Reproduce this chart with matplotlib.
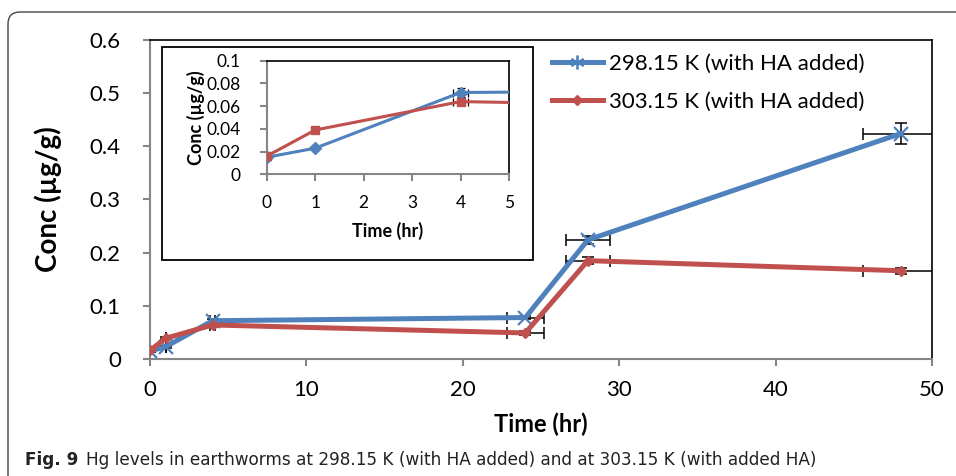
import matplotlib
matplotlib.use("Agg")
import matplotlib.pyplot as plt
import matplotlib.patches as mpatches
from matplotlib.transforms import IdentityTransform
from matplotlib.lines import Line2D

# data
time_hr = [0, 1, 4, 24, 28, 48]
conc_298 = [0.015, 0.023, 0.072, 0.078, 0.224, 0.424]
conc_303 = [0.016, 0.039, 0.064, 0.049, 0.185, 0.166]
yerr_298 = [0.002, 0.002, 0.004, 0.003, 0.008, 0.02]
yerr_303 = [0.002, 0.002, 0.003, 0.003, 0.006, 0.006]
xerr_298 = [0, 0, 0.15, 1.2, 1.4, 2.4]
xerr_303 = [0, 0, 0.15, 1.2, 1.4, 2.4]

label_298 = "298.15 K (with HA added)"
label_303 = "303.15 K (with HA added)"
main_yticks = [0, 0.1, 0.2, 0.3, 0.4, 0.5, 0.6]
main_xticks = [0, 10, 20, 30, 40, 50]
inset_yticks = [0, 0.02, 0.04, 0.06, 0.08, 0.1]
inset_xticks = [0, 1, 2, 3, 4, 5]

BLUE = "#4F81BD"
RED = "#C0504D"
GRID_GREY = "#868686"

plt.rcParams['font.family'] = ['Lato', 'DejaVu Sans']

fig = plt.figure(figsize=(9.56, 4.76), dpi=100)

# rounded frame around the figure (open to the right)
frame = mpatches.FancyBboxPatch((8, -30), 1100, 476 - 12 + 30,
                                boxstyle="round,pad=0,rounding_size=12",
                                transform=IdentityTransform(), fill=False,
                                edgecolor="#444444", linewidth=1.0)
fig.patches.append(frame)


def style_axes(ax, fs, pad):
    for side in ["left", "bottom"]:
        ax.spines[side].set_color(GRID_GREY)
        ax.spines[side].set_linewidth(1.5)
    for side in ["top", "right"]:
        ax.spines[side].set_color("black")
        ax.spines[side].set_linewidth(1.2)
    ax.tick_params(axis="both", direction="out", color=GRID_GREY, width=1.5,
                   length=5, labelsize=fs, pad=pad)


# main chart
ax = fig.add_axes([0.1569, 0.2458, 0.818, 0.6702])
for t, c, xe, ye in [(time_hr, conc_298, xerr_298, yerr_298),
                     (time_hr, conc_303, xerr_303, yerr_303)]:
    ax.errorbar(t, c, xerr=xe, yerr=ye, fmt="none", ecolor="black",
                elinewidth=1.1, capsize=4, capthick=1.1, zorder=2)
ax.plot(time_hr, conc_298, color=BLUE, lw=3.6, marker="x", ms=10, mew=1.6,
        mec=BLUE, zorder=3)
ax.plot(time_hr, conc_303, color=RED, lw=3.6, marker="D", ms=5, mec=RED,
        zorder=3)
ax.set_xlim(0, 50)
ax.set_ylim(0, 0.6)
ax.set_xticks(main_xticks)
ax.set_yticks(main_yticks)
ax.set_yticklabels([f"{v:g}" for v in main_yticks])
style_axes(ax, 16, 10)
ax.tick_params(axis="y", pad=16)
ax.set_xlabel("Time (hr)", fontsize=17, fontweight="bold", labelpad=9)
ax.set_ylabel("Conc (µg/g)", fontsize=20, fontweight="bold", labelpad=20)

handles = [Line2D([], [], color=BLUE, lw=3.6, marker=(6, 2, 0), ms=10, mew=1.3),
           Line2D([], [], color=RED, lw=3.6, marker="D", ms=5)]
fig.legend(handles, [label_298, label_303], loc="upper left",
           bbox_to_anchor=(0.568, 0.905), frameon=False, fontsize=16,
           handlelength=2.3, handletextpad=0.25, labelspacing=0.8,
           borderaxespad=0)

# inset frame
inset_box = mpatches.Rectangle((0.1691, 0.4538), 0.3881, 0.4468,
                               transform=fig.transFigure, fill=True,
                               facecolor="white", edgecolor="black",
                               linewidth=1.3, zorder=5)
fig.patches.append(inset_box)

axi = fig.add_axes([0.279, 0.6338, 0.2535, 0.2387], zorder=10)
for t, c, xe, ye in [(time_hr, conc_298, xerr_298, yerr_298),
                     (time_hr, conc_303, xerr_303, yerr_303)]:
    axi.errorbar(t, c, xerr=xe, yerr=ye, fmt="none", ecolor="black",
                 elinewidth=0.9, capsize=3, capthick=0.9, zorder=2)
axi.plot(time_hr, conc_298, color=BLUE, lw=2.2, marker="D", ms=6, mec=BLUE,
         zorder=3)
axi.plot(time_hr, conc_303, color=RED, lw=2.2, marker="s", ms=6, mec=RED,
         zorder=3)
axi.set_xlim(0, 5)
axi.set_ylim(0, 0.1)
axi.set_xticks(inset_xticks)
axi.set_yticks(inset_yticks)
axi.set_yticklabels([f"{v:g}" for v in inset_yticks])
style_axes(axi, 12.5, 14)
axi.tick_params(axis="x", pad=10)
axi.set_xlabel("Time (hr)", fontsize=13, fontweight="bold", labelpad=8)
axi.set_ylabel("Conc (µg/g)", fontsize=13, fontweight="bold", labelpad=1)

# caption
fig.text(25 / 956, 1 - 460 / 476, "Fig. 9", fontsize=12.2, fontweight="bold",
         family=["Liberation Sans Narrow", "DejaVu Sans"], va="center",
         color="#222222")
fig.text(86 / 956, 1 - 460 / 476,
         "Hg levels in earthworms at 298.15 K (with HA added) and at 303.15 K (with added HA)",
         fontsize=12.2, family=["Liberation Sans Narrow", "DejaVu Sans"],
         va="center", color="#222222")

fig.savefig("out.png", dpi=100)
